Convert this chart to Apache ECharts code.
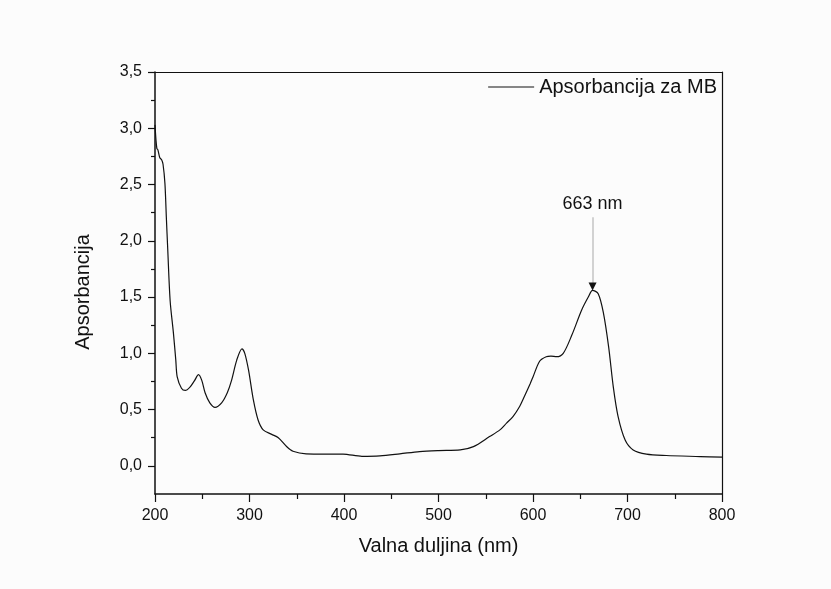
<!DOCTYPE html>
<html>
<head>
<meta charset="utf-8">
<script src="https://cdn.jsdelivr.net/npm/echarts@6/dist/echarts.min.js"></script>
<style>
html,body{margin:0;padding:0;background:#fcfcfc;}
#c{width:831px;height:589px;}
</style>
</head>
<body>
<div id="c"></div>
<script>
// Wavelength (nm)
const wavelength = [200,201,202,203,205,207,208.5,210.5,212,213.5,216,219.5,222,223.5,228,232,237,242,246,249.5,253,258,263.5,270.5,276.5,281,286.5,292,295,299,304,309,314.5,323.5,330.5,339.5,346,360,380,399,419,438,459,480,500,523,537,554,565,572,579,586,590,597,600,607,614,619,625,632,641,651.5,658.5,663,669,674.5,680,685,690,697.5,706,720,741,777,800];
// Absorbance values
const absorbance = [3.03,2.90,2.82,2.81,2.74,2.72,2.68,2.51,2.21,1.92,1.47,1.18,0.94,0.79,0.69,0.67,0.70,0.76,0.81,0.76,0.65,0.56,0.52,0.56,0.65,0.76,0.94,1.04,1.00,0.85,0.59,0.41,0.32,0.28,0.25,0.17,0.13,0.107,0.105,0.105,0.085,0.089,0.107,0.127,0.136,0.142,0.171,0.26,0.32,0.38,0.44,0.53,0.60,0.73,0.79,0.93,0.97,0.975,0.97,1.00,1.16,1.385,1.50,1.56,1.53,1.36,1.06,0.70,0.44,0.23,0.142,0.104,0.092,0.083,0.077];
const yMajorTicks = [0,0.5,1.0,1.5,2.0,2.5,3.0,3.5];
const yMinorTicks = [0.25,0.75,1.25,1.75,2.25,2.75,3.25];
const seriesName = 'Apsorbancija za MB';
const peakWavelength = 663;
const peakValue = 1.56;
const peakLabel = '663 nm';
const xTitle = 'Valna duljina (nm)';
const yTitle = 'Apsorbancija';

const FONT = '"Liberation Sans", Arial, sans-serif';
const TXT = '#111';
const chart = echarts.init(document.getElementById('c'), null, {renderer:'canvas'});
const data = wavelength.map((w,i)=>[w, absorbance[i]]);
const fmt = v => v.toFixed(1).replace('.', ',');

chart.setOption({
  backgroundColor:'#fcfcfc',
  animation:false,
  textStyle:{fontFamily:FONT},
  grid:{left:155, right:109, top:72, bottom:95, containLabel:false, outerBoundsMode:'none'},
  legend:{
    right:114, top:77, padding:0, itemWidth:46, itemHeight:14,
    textStyle:{fontSize:20, color:TXT, fontFamily:FONT},
    data:[{name:seriesName, icon:'path://M0,0 L46,0 L46,1 L0,1 Z', itemStyle:{color:'#111'}}]
  },
  xAxis:[{
    type:'value', min:200, max:800, interval:100,
    name:xTitle, nameLocation:'middle', nameGap:42,
    nameTextStyle:{fontSize:20, color:TXT, fontFamily:FONT},
    axisLine:{show:true, onZero:false, lineStyle:{color:'#111', width:1.5}},
    axisTick:{show:true, length:8, lineStyle:{color:'#111', width:1.2}},
    minorTick:{show:true, splitNumber:2, length:5, lineStyle:{color:'#111', width:1.2}},
    axisLabel:{fontSize:16, color:TXT, margin:14, fontFamily:FONT},
    splitLine:{show:false}
  },{
    type:'value', position:'top', min:200, max:800,
    axisLine:{show:true, onZero:false, lineStyle:{color:'#111', width:1.2}},
    axisTick:{show:false}, axisLabel:{show:false}, splitLine:{show:false}
  }],
  yAxis:[{
    type:'value', min:-0.25, max:3.5,
    name:yTitle, nameLocation:'middle', nameGap:62,
    nameTextStyle:{fontSize:20, color:TXT, fontFamily:FONT, padding:[0,18,0,0]},
    axisLine:{show:true, onZero:false, lineStyle:{color:'#111', width:1.5}},
    axisTick:{show:true, length:7, customValues:yMajorTicks, lineStyle:{color:'#111', width:1.2}},
    axisLabel:{fontSize:16, color:TXT, margin:13, customValues:yMajorTicks, formatter:fmt, fontFamily:FONT},
    splitLine:{show:false}
  },{
    type:'value', position:'left', min:-0.25, max:3.5,
    axisLine:{show:false},
    axisTick:{show:true, length:4, customValues:yMinorTicks, lineStyle:{color:'#111', width:1.2}},
    axisLabel:{show:false}, splitLine:{show:false}
  },{
    type:'value', position:'right', min:-0.25, max:3.5,
    axisLine:{show:true, onZero:false, lineStyle:{color:'#111', width:1.2}},
    axisTick:{show:false}, axisLabel:{show:false}, splitLine:{show:false}
  }],
  series:[{
    name:seriesName, type:'line', data:data, xAxisIndex:0, yAxisIndex:0,
    symbol:'none', smooth:0.3,
    lineStyle:{color:'#111', width:1.2},
    itemStyle:{color:'#111'},
    markLine:{
      silent:true, symbol:['none','none'], animation:false,
      lineStyle:{color:'#c4c4c4', width:1.5, type:'solid'},
      label:{show:true, position:'start', formatter:peakLabel, fontSize:18, color:TXT, distance:4, fontFamily:FONT},
      data:[[{coord:[peakWavelength, 2.21]},{coord:[peakWavelength, peakValue+0.06]}]]
    },
    markPoint:{
      silent:true, symbol:'triangle', symbolRotate:180, symbolSize:[8,8],
      itemStyle:{color:'#111'}, label:{show:false},
      data:[{coord:[peakWavelength, peakValue+0.035]}]
    }
  }]
});
</script>
</body>
</html>
